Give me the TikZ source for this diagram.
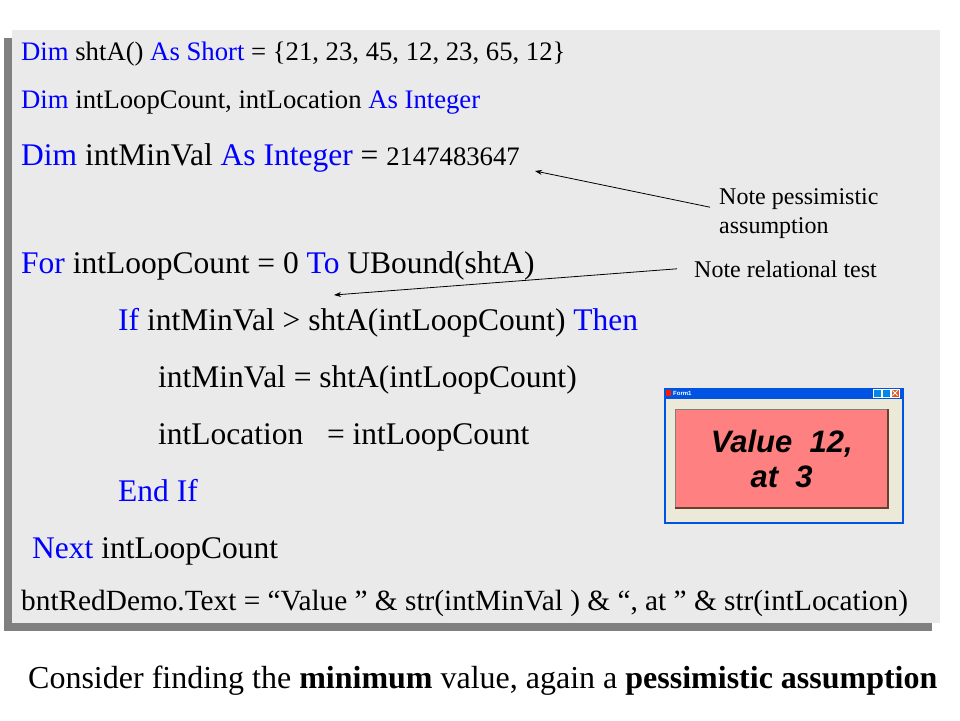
\documentclass[tikz,border=0pt]{standalone}
\usepackage{fontspec}
\setmainfont{Liberation Serif}
\newfontfamily\formfont{Liberation Sans}
\usetikzlibrary{arrows.meta}
\definecolor{keyword}{RGB}{0,0,255}
\definecolor{codebg}{RGB}{234,234,234}
\definecolor{codeshadow}{RGB}{128,128,128}
\definecolor{formbody}{RGB}{236,233,216}
\definecolor{formblue}{RGB}{0,84,227}
\definecolor{closered}{RGB}{226,86,40}
\definecolor{labelred}{RGB}{255,128,128}
\definecolor{labeledge}{RGB}{104,64,44}
\newcommand{\kw}[1]{\textcolor{keyword}{#1}}
\begin{document}
\begin{tikzpicture}[x=1pt,y=-1pt,
	every node/.style={inner sep=0pt,anchor=base west},
	small code/.style={font=\fontsize{26.7}{30}\selectfont},
	big code/.style={font=\fontsize{31.5}{36}\selectfont},
	note/.style={font=\fontsize{24}{29}\selectfont,align=left},
	pointer/.style={-{Stealth[length=7pt,width=5pt]},line width=0.8pt}]
	\useasboundingbox (0,0) rectangle (960,720);
	\fill[codeshadow] (4,38) rectangle (932,631);
	\fill[codebg] (12,30) rectangle (940,623);
	\node[small code] (dimarr) at (21,60) {\kw{Dim} shtA() \kw{As Short} = \{21, 23, 45, 12, 23, 65, 12\}};
	\node[small code] (dimcount) at (21,108) {\kw{Dim} intLoopCount, intLocation \kw{As Integer}};
	\node[big code] (dimmin) at (21,165) {\kw{Dim} intMinVal \kw{As Integer} = {\fontsize{26.7}{30}\selectfont 2147483647}};
	\node[big code] (forloop) at (21,273) {\kw{For} intLoopCount = 0 \kw{To} UBound(shtA)};
	\node[big code] (iftest) at (118,330) {\kw{If} intMinVal > shtA(intLoopCount) \kw{Then}};
	\node[big code] (setmin) at (158,387) {intMinVal = shtA(intLoopCount)};
	\node[big code] (setloc) at (158,444) {intLocation \ \ = intLoopCount};
	\node[big code] (endif) at (118,501) {\kw{End If}};
	\node[big code] (nextloop) at (32,558) {\kw{Next} intLoopCount};
	\node[font=\fontsize{29.3}{33}\selectfont] (settext) at (21,610) {bntRedDemo.Text = “Value ” \& str(intMinVal ) \& “, at ” \& str(intLocation)};
	\node[note,anchor=north west] (notepess) at (719,188) {Note pessimistic\\assumption};
	\node[note] (notereln) at (694,277) {Note relational test};
	\coordinate (pesstip) at (535,171);
	\coordinate (relntip) at (334,295);
	\draw[pointer] ([xshift=-9pt,yshift=6pt]notepess.west) -- (pesstip);
	\draw[pointer] ([xshift=-17pt]notereln.west) -- (relntip);
	\node[draw=formblue,line width=2pt,fill=formbody,minimum width=238pt,minimum height=134pt,anchor=north west] (form) at (664,388) {};
	\fill[formblue] (form.north west) rectangle ++(238,11);
	\fill[red!80!orange] (666,390) rectangle (671,396);
	\node[font=\formfont\bfseries\fontsize{6}{6}\selectfont,text=white,anchor=west] (formtitle) at (673,393) {Form1};
	\foreach \bx in {873,882}
		\draw[white,fill=formblue!70!cyan,line width=0.5pt] (\bx,389) rectangle ++(8,8);
	\draw[white,fill=closered,line width=0.5pt] (891,389) rectangle ++(8,8);
	\draw[white,line width=0.8pt] (892.5,390.5) -- (897.5,395.5) (892.5,395.5) -- (897.5,390.5);
	\node[fill=labelred,minimum width=213pt,minimum height=99pt,anchor=north west,align=center,font=\formfont\bfseries\itshape\fontsize{31}{38}\selectfont] (valuelabel) at (675,409) {Value\ \ 12,\\[-3pt]at\ \ 3};
	\draw[gray,line width=0.8pt] (valuelabel.south west) -- (valuelabel.north west) -- (valuelabel.north east);
	\draw[labeledge,line width=2pt] (valuelabel.north east) -- (valuelabel.south east) -- (valuelabel.south west);
	\node[font=\fontsize{32}{36}\selectfont] (caption) at (28,688) {Consider finding the \textbf{minimum} value, again a \textbf{pessimistic assumption}};
\end{tikzpicture}
\end{document}
